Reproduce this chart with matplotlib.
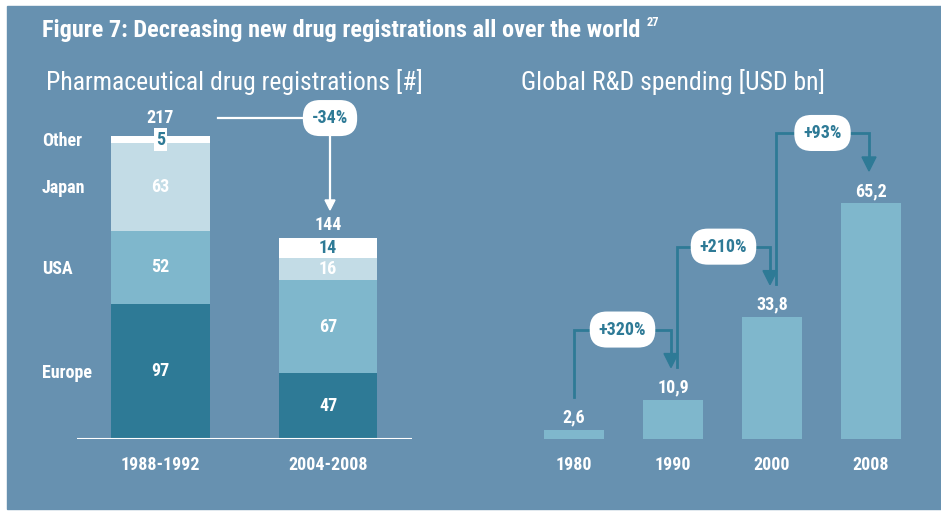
import matplotlib
matplotlib.use("Agg")
import matplotlib.pyplot as plt
from matplotlib.patches import Rectangle, Polygon
from matplotlib import font_manager

# ---------------- data ----------------
periods = ["1988-1992", "2004-2008"]
regions = ["Europe", "USA", "Japan", "Other"]
europe = [97, 47]
usa = [52, 67]
japan = [63, 16]
other = [5, 14]
totals = [217, 144]
reg_change = "-34%"

years = ["1980", "1990", "2000", "2008"]
spend = [2.6, 10.9, 33.8, 65.2]
growth = ["+320%", "+210%", "+93%"]

title = "Figure 7: Decreasing new drug registrations all over the world"
title_ref = "27"
sub_left = "Pharmaceutical drug registrations [#]"
sub_right = "Global R&D spending [USD bn]"

# ---------------- style ----------------
W, H = 941, 511
BG = "#6791B0"
DARK = "#2E7A96"
MID = "#7FB7CC"
LIGHT = "#C3DCE6"
WHITE = "#FFFFFF"
seg_colors = [DARK, MID, LIGHT, WHITE]

names = {f.name for f in font_manager.fontManager.ttflist}
FONT = "Roboto Condensed" if "Roboto Condensed" in names else "DejaVu Sans"
plt.rcParams["font.family"] = [FONT, "DejaVu Sans"]
FS = 13

fig = plt.figure(figsize=(W / 100, H / 100), dpi=100, facecolor="white")
fig.add_artist(Rectangle((7 / W, 2 / H), (W - 7) / W, 503 / H,
                         transform=fig.transFigure, color=BG, zorder=0))

# overlay in pixel coordinates (y down)
ov = fig.add_axes([0, 0, 1, 1], zorder=5)
ov.set_xlim(0, W)
ov.set_ylim(H, 0)
ov.axis("off")
ov.patch.set_alpha(0)


def fpos(x0, y_top, x1, y_bot):
    return [x0 / W, (H - y_bot) / H, (x1 - x0) / W, (y_bot - y_top) / H]


# ---------------- left chart ----------------
axL = fig.add_axes(fpos(30, 100, 440, 439), zorder=2)
axL.set_xlim((30 - 160.5) / 167.5, (440 - 160.5) / 167.5)
axL.set_ylim(0, 339 / 1.396)
axL.axis("off")
axL.patch.set_alpha(0)

xs = list(range(len(periods)))
series = [europe, usa, japan, other]
bottoms = [0] * len(periods)
bw = 0.591
for si, vals in enumerate(series):
    axL.bar(xs, vals, bottom=bottoms, width=bw, color=seg_colors[si],
            edgecolor="none", zorder=2)
    for i, v in enumerate(vals):
        yc = bottoms[i] + v / 2
        if si == 3:
            kw = {}
            if v * 1.396 < 16:
                kw["bbox"] = dict(boxstyle="square,pad=0.12", fc=WHITE,
                                  ec="none")
            axL.text(xs[i], yc, str(v), ha="center", va="center", color=DARK,
                     fontsize=FS, fontweight="bold", zorder=4, **kw)
        else:
            axL.text(xs[i], yc, str(v), ha="center", va="center", color=WHITE,
                     fontsize=FS, fontweight="bold", zorder=4)
        if i == 0:
            axL.text((42 - 160.5) / 167.5, yc - 1, regions[si], ha="left",
                     va="center", color=WHITE, fontsize=FS, fontweight="bold")
    bottoms = [b + v for b, v in zip(bottoms, vals)]

axL.plot([-0.5, 1.5], [0, 0], color=WHITE, lw=1.5, zorder=3,
         solid_capstyle="butt")
for i, p in enumerate(periods):
    axL.text(xs[i], -26 / 1.396, p, ha="center", va="center", color=WHITE,
             fontsize=FS, fontweight="bold")


def topx(ax, x, y):
    dx, dy = ax.transData.transform((x, y))
    return dx, H - dy


# totals labels
tot_off = [18, 13]
for i, t in enumerate(totals):
    px, py = topx(axL, xs[i], t)
    ov.text(px, py - tot_off[i], str(t), ha="center", va="center",
            color=WHITE, fontsize=FS, fontweight="bold")

# -34% connector
p1x, p1y = topx(axL, xs[0], totals[0])
p2x, p2y = topx(axL, xs[1], totals[1])
right1 = topx(axL, xs[0] + bw / 2, 0)[0]
ly = p1y - 18
pcx = p2x + 2
ov.plot([right1 + 8, pcx], [ly, ly], color=WHITE, lw=1.6, zorder=5)
tip = p2y - 28
ov.plot([pcx, pcx], [ly, tip - 9], color=WHITE, lw=1.6, zorder=5)
ov.add_patch(Polygon([[pcx - 5, tip - 10], [pcx + 5, tip - 10], [pcx, tip]],
                     closed=True, color=WHITE, zorder=5))
ov.text(pcx, ly, reg_change, ha="center", va="center", color=DARK,
        fontsize=FS, fontweight="bold", zorder=7,
        bbox=dict(boxstyle="round,pad=0.5,rounding_size=0.95", fc=WHITE,
                  ec="none"))

# ---------------- right chart ----------------
axR = fig.add_axes(fpos(520, 100, 930, 439), zorder=2)
axR.set_xlim((520 - 574) / 99, (930 - 574) / 99)
axR.set_ylim(0, 339 / 3.62)
axR.axis("off")
axR.patch.set_alpha(0)

xr = list(range(len(years)))
axR.bar(xr, spend, width=0.606, color=MID, edgecolor="none", zorder=2)
for i, v in enumerate(spend):
    px, py = topx(axR, xr[i], v)
    ov.text(px, py - 12, f"{v:.1f}".replace(".", ","), ha="center",
            va="center", color=WHITE, fontsize=FS, fontweight="bold")
    ov.text(px, 465, years[i], ha="center", va="center", color=WHITE,
            fontsize=FS, fontweight="bold")

for i, g in enumerate(growth):
    sx, sy = topx(axR, xr[i], spend[i])
    ex, ey = topx(axR, xr[i + 1], spend[i + 1])
    sx = sx + (0 if i == 0 else 4)
    ex = ex - 2
    start_y = sy - 33
    tip = ey - 32
    hy = tip - 38
    ov.plot([sx, sx, ex, ex], [start_y, hy, hy, tip - 12], color=DARK,
            lw=2.0, zorder=5, solid_joinstyle="miter")
    ov.add_patch(Polygon([[ex - 7, tip - 14], [ex + 7, tip - 14], [ex, tip]],
                         closed=True, color=DARK, zorder=5))
    ov.text((sx + ex) / 2, hy, g, ha="center", va="center", color=DARK,
            fontsize=FS, fontweight="bold", zorder=7,
            bbox=dict(boxstyle="round,pad=0.5,rounding_size=0.95", fc=WHITE,
                      ec="none"))

# ---------------- titles ----------------
t = ov.text(42, 30, title, ha="left", va="center", color=WHITE,
            fontsize=17.5, fontweight="bold")
ov.text(46, 82, sub_left, ha="left", va="center", color=WHITE, fontsize=18.5)
ov.text(521, 82, sub_right, ha="left", va="center", color=WHITE, fontsize=18.5)

fig.canvas.draw()
bb = t.get_window_extent()
ov.text(bb.x1 + 6, 22, title_ref, ha="left", va="center", color=WHITE,
        fontsize=9, fontweight="bold")

fig.savefig("out.png", dpi=100, facecolor="white")
